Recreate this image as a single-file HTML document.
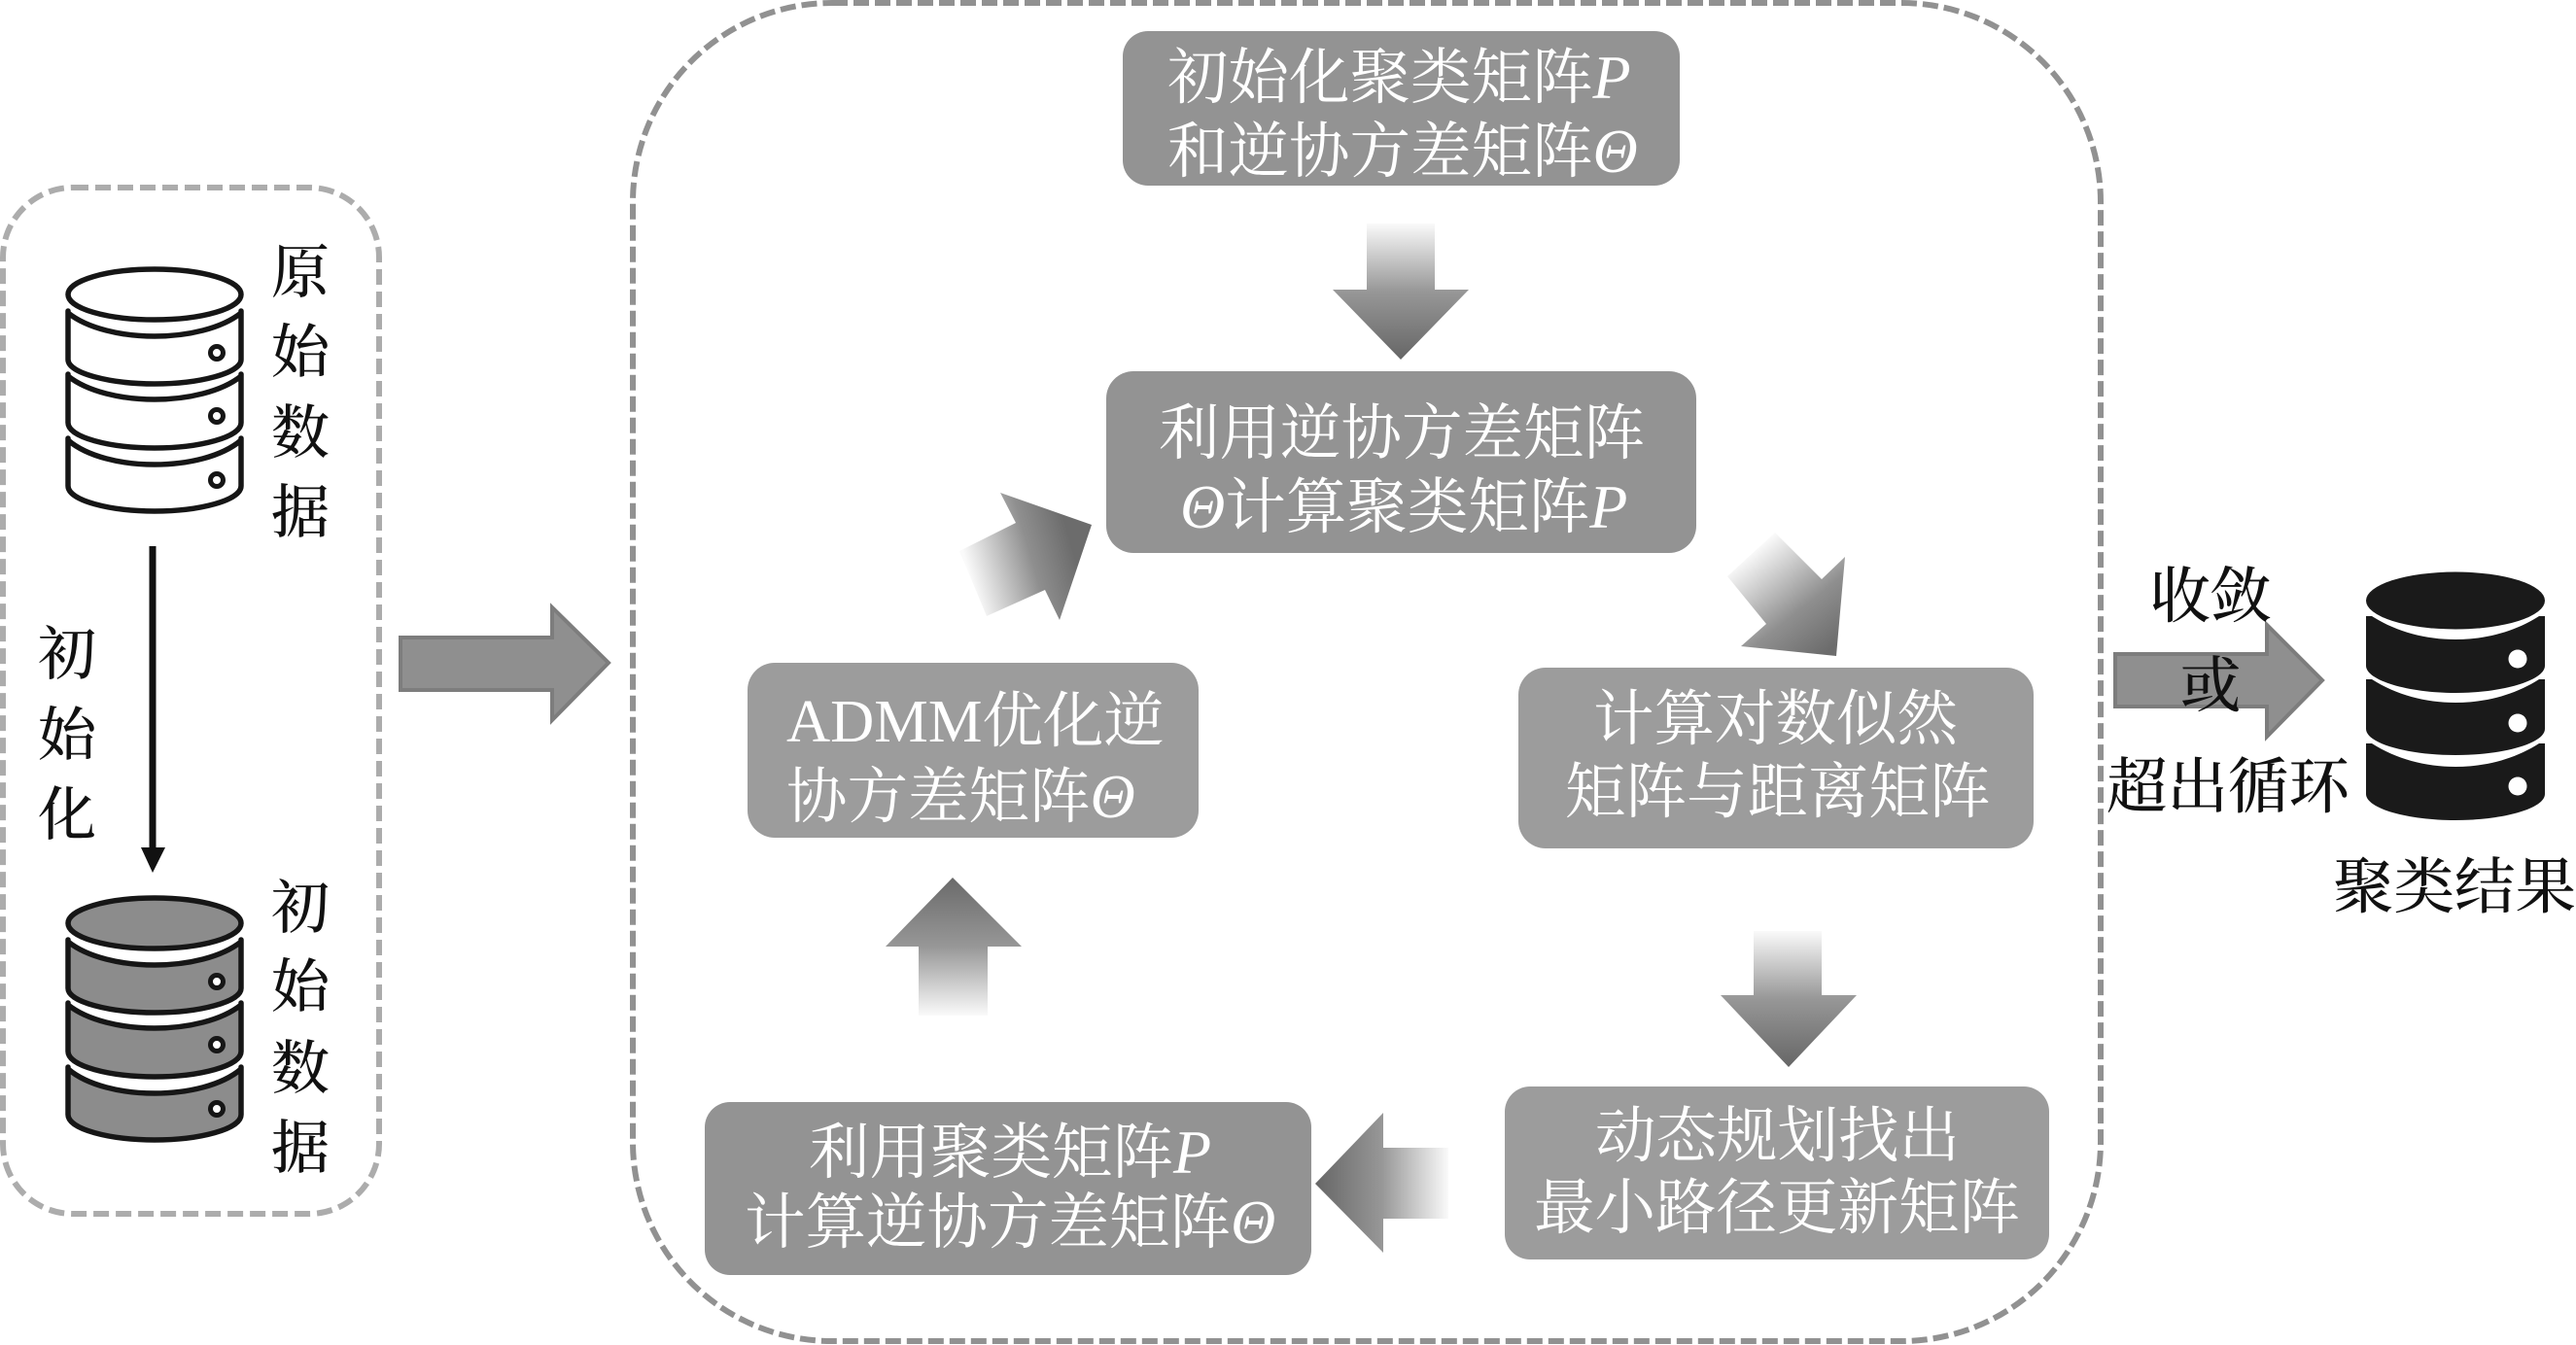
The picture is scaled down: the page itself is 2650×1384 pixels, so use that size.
<!DOCTYPE html>
<html><head><meta charset="utf-8">
<style>
html,body{margin:0;padding:0;background:#fff}
svg{display:block}
text{font-family:"Liberation Serif","Noto Serif CJK SC",serif;font-size:62.5px}
.w{fill:#fff}
.b{fill:#111;font-size:62.5px;font-weight:500}
.v{fill:#111;font-size:60px;font-weight:500}
.i{font-style:italic;font-family:"Liberation Serif",serif;font-size:64px}
</style></head><body>
<svg width="2650" height="1384" viewBox="0 0 2650 1384" xmlns="http://www.w3.org/2000/svg">
<defs>
<linearGradient id="gd" x1="0" y1="0" x2="0" y2="1"><stop offset="0" stop-color="#fafafa"/><stop offset="0.5" stop-color="#979797"/><stop offset="1" stop-color="#666"/></linearGradient>
<linearGradient id="gu" x1="0" y1="1" x2="0" y2="0"><stop offset="0" stop-color="#fafafa"/><stop offset="0.5" stop-color="#979797"/><stop offset="1" stop-color="#6a6a6a"/></linearGradient>
<linearGradient id="gl" x1="1" y1="0" x2="0" y2="0"><stop offset="0" stop-color="#fafafa"/><stop offset="0.5" stop-color="#979797"/><stop offset="1" stop-color="#666"/></linearGradient>
<linearGradient id="gdu" gradientUnits="userSpaceOnUse" x1="1000" y1="600" x2="1105" y2="570"><stop offset="0" stop-color="#fafafa"/><stop offset="0.6" stop-color="#8f8f8f"/><stop offset="1" stop-color="#6c6c6c"/></linearGradient>
<linearGradient id="gdd" gradientUnits="userSpaceOnUse" x1="1800" y1="570" x2="1880" y2="670"><stop offset="0" stop-color="#fafafa"/><stop offset="0.6" stop-color="#8f8f8f"/><stop offset="1" stop-color="#6c6c6c"/></linearGradient>
</defs>

<!-- dashed containers -->
<rect x="3" y="193" width="387" height="1056" rx="72" ry="72" fill="none" stroke="#acacac" stroke-width="6" stroke-dasharray="16 7"/>
<rect x="651" y="3" width="1510" height="1377" rx="205" ry="205" fill="none" stroke="#919191" stroke-width="6" stroke-dasharray="16 6"/>

<!-- DB 1 (white) -->
<g fill="#fff" stroke="#161616" stroke-width="5.5" stroke-linejoin="round">
<path d="M70,320 V322 C90,338 125,346 159,346 S228,338 248,322 V320 V370 C248,384 205,395 159,395 S70,384 70,370 Z"/>
<path d="M70,385 V387 C90,403 125,411 159,411 S228,403 248,387 V385 V435 C248,450 205,461 159,461 S70,450 70,435 Z"/>
<path d="M70,451 V453 C90,470 125,478 159,478 S228,470 248,453 V451 V500 C248,515 205,526 159,526 S70,515 70,500 Z"/>
<ellipse cx="159" cy="303" rx="89" ry="26"/>
<circle cx="223" cy="363" r="6.5" stroke-width="5"/>
<circle cx="223" cy="428" r="6.5" stroke-width="5"/>
<circle cx="223" cy="494" r="6.5" stroke-width="5"/>
</g>
<!-- DB 2 (gray) -->
<g fill="#8c8c8c" stroke="#161616" stroke-width="5.5" stroke-linejoin="round" transform="translate(0,647)">
<path d="M70,320 V322 C90,338 125,346 159,346 S228,338 248,322 V320 V370 C248,384 205,395 159,395 S70,384 70,370 Z"/>
<path d="M70,385 V387 C90,403 125,411 159,411 S228,403 248,387 V385 V435 C248,450 205,461 159,461 S70,450 70,435 Z"/>
<path d="M70,451 V453 C90,470 125,478 159,478 S228,470 248,453 V451 V500 C248,515 205,526 159,526 S70,515 70,500 Z"/>
<ellipse cx="159" cy="303" rx="89" ry="26"/>
<circle cx="223" cy="363" r="6.5" fill="#fff" stroke-width="5"/>
<circle cx="223" cy="428" r="6.5" fill="#fff" stroke-width="5"/>
<circle cx="223" cy="494" r="6.5" fill="#fff" stroke-width="5"/>
</g>
<!-- DB 3 (black) -->
<g fill="#1a1a1a">
<ellipse cx="2526" cy="618" rx="92" ry="29.5"/>
<path d="M2434,634 H2440 C2465,650 2495,658 2526,658 S2587,650 2612,634 H2618 V685 C2618,700 2575,713 2526,713 S2434,700 2434,685 Z"/>
<path d="M2434,699 H2440 C2465,715 2495,723 2526,723 S2587,715 2612,699 H2618 V750 C2618,765 2575,777 2526,777 S2434,765 2434,750 Z"/>
<path d="M2434,765 H2440 C2465,781 2495,789 2526,789 S2587,781 2612,765 H2618 V817 C2618,832 2575,844 2526,844 S2434,832 2434,817 Z"/>
<circle cx="2590" cy="678" r="9.5" fill="#fff"/>
<circle cx="2590" cy="744" r="9.5" fill="#fff"/>
<circle cx="2590" cy="809" r="9.5" fill="#fff"/>
</g>

<!-- black down arrow -->
<line x1="157" y1="562" x2="157" y2="875" stroke="#111" stroke-width="7"/>
<polygon points="145,872 170,872 157,898" fill="#111"/>

<!-- gray block arrows -->
<polygon points="412,656 568,656 568,625 626,682 568,741 568,710 412,710" fill="#8f8f8f" stroke="#7d7d7d" stroke-width="4"/>
<polygon points="2176,673 2332,673 2332,643 2389,700 2332,758 2332,727 2176,727" fill="#8f8f8f" stroke="#7d7d7d" stroke-width="4"/>

<!-- gradient arrows -->
<polygon points="1406,230 1476,230 1476,298 1511,298 1441,370 1371,298 1406,298" fill="url(#gd)"/>
<polygon points="1804,958 1874,958 1874,1024 1910,1024 1840,1098 1770,1024 1804,1024" fill="url(#gd)"/>
<polygon points="945,1045 1016,1045 1016,974 1051,974 980,903 911,974 945,974" fill="url(#gu)"/>
<polygon points="1490,1181 1423,1181 1423,1145 1353,1218 1423,1289 1423,1254 1490,1254" fill="url(#gl)"/>
<polygon points="987,567 1045,538 1029,507 1123,540 1090,638 1075,607 1015,634" fill="url(#gdu)" />
<polygon points="1826,548 1874,596 1898,573 1889,675 1791,665 1817,642 1777,593" fill="url(#gdd)"/>

<!-- boxes -->
<rect x="1155" y="32" width="573" height="159" rx="26" fill="#939393"/>
<rect x="1138" y="382" width="607" height="187" rx="28" fill="#939393"/>
<rect x="1562" y="687" width="530" height="186" rx="28" fill="#9c9c9c"/>
<rect x="1548" y="1118" width="560" height="178" rx="26" fill="#9c9c9c"/>
<rect x="769" y="682" width="464" height="180" rx="28" fill="#9c9c9c"/>
<rect x="725" y="1134" width="624" height="178" rx="26" fill="#939393"/>

<!-- box text -->
<text class="w" x="1201" y="101">初始化聚类矩阵<tspan class="i">P</tspan></text>
<text class="w" x="1201" y="177">和逆协方差矩阵<tspan class="i">Θ</tspan></text>
<text class="w" x="1192" y="467">利用逆协方差矩阵</text>
<text class="w" x="1214" y="543"><tspan class="i">Θ</tspan>计算聚类矩阵<tspan class="i">P</tspan></text>
<text class="w" x="1639" y="761">计算对数似然</text>
<text class="w" x="1610" y="836">矩阵与距离矩阵</text>
<text class="w" x="1641" y="1190">动态规划找出</text>
<text class="w" x="1578" y="1264">最小路径更新矩阵</text>
<text class="w" x="809" y="763">ADMM优化逆</text>
<text class="w" x="809" y="841">协方差矩阵<tspan class="i">Θ</tspan></text>
<text class="w" x="832" y="1207">利用聚类矩阵<tspan class="i">P</tspan></text>
<text class="w" x="766" y="1279">计算逆协方差矩阵<tspan class="i">Θ</tspan></text>

<!-- black text -->
<g text-anchor="middle">
<text class="v" x="309" y="301">原</text>
<text class="v" x="309" y="383">始</text>
<text class="v" x="309" y="466">数</text>
<text class="v" x="309" y="548">据</text>
<text class="v" x="309" y="955">初</text>
<text class="v" x="309" y="1036">始</text>
<text class="v" x="309" y="1120">数</text>
<text class="v" x="309" y="1202">据</text>
<text class="v" x="69" y="694">初</text>
<text class="v" x="69" y="777">始</text>
<text class="v" x="69" y="859">化</text>
<text class="b" x="2274" y="635">收敛</text>
<text class="b" x="2274" y="727">或</text>
<text class="b" x="2292" y="831">超出循环</text>
<text class="b" x="2525" y="934">聚类结果</text>
</g>
</svg>
</body></html>
